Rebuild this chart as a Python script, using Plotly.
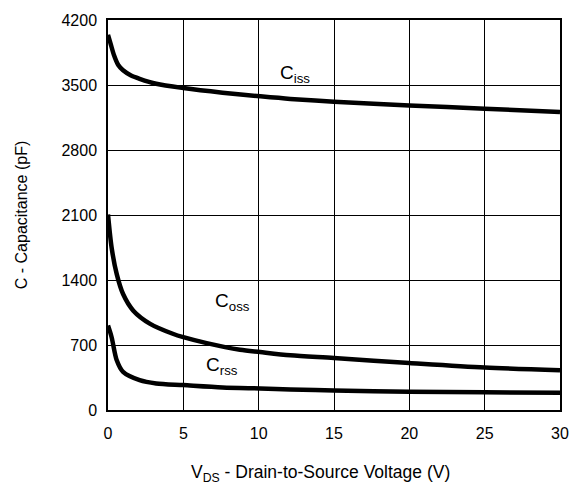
import plotly.graph_objects as go

vds_iss = [0, 0.2, 0.4, 0.68, 1.0, 1.5, 2.1, 3.2, 5, 7.6, 10.1, 12.1, 15, 20, 25, 30]
ciss = [4040, 3930, 3820, 3715, 3658, 3605, 3567, 3513, 3467, 3417, 3378, 3350, 3320, 3280, 3245, 3210]

vds_oss = [0, 0.24, 0.58, 1.0, 1.68, 2.8, 4.3, 5, 6.55, 8.76, 10.1, 12.1, 15, 20, 25, 30]
coss = [2105, 1748, 1463, 1249, 1070, 928, 821, 784, 720, 649, 624, 589, 560, 506, 457, 428]

vds_rss = [0, 0.24, 0.58, 1.0, 2.1, 3.2, 5, 7.6, 10.1, 12.1, 15, 20, 25, 30]
crss = [910, 784, 535, 410, 321, 286, 268, 243, 232, 222, 210, 196, 190, 185]

x_ticks = [0, 5, 10, 15, 20, 25, 30]
y_ticks = [0, 700, 1400, 2100, 2800, 3500, 4200]

labels = ["C<sub>iss</sub>", "C<sub>oss</sub>", "C<sub>rss</sub>"]
label_x = [11.28, 6.94, 6.37]
label_y = [3620, 1160, 475]

x_title = "V<sub>DS</sub> - Drain-to-Source Voltage (V)"
y_title = "C - Capacitance (pF)"

FONT = "Liberation Sans, Arial, Helvetica, sans-serif"

fig = go.Figure()
for xs, ys in [(vds_iss, ciss), (vds_oss, coss), (vds_rss, crss)]:
    fig.add_trace(go.Scatter(x=xs, y=ys, mode="lines",
                             line=dict(color="black", width=4.5, shape="spline", smoothing=0.8),
                             showlegend=False, hoverinfo="skip"))

for t, x, y in zip(labels, label_x, label_y):
    fig.add_annotation(x=x, y=y, text=t, showarrow=False, xanchor="left", yanchor="middle",
                       font=dict(family=FONT, size=19, color="black"))

fig.add_annotation(xref="paper", yref="paper", x=0.471, y=-0.163, text=x_title,
                   showarrow=False, xanchor="center", yanchor="middle",
                   font=dict(family=FONT, size=17.5, color="black"))

fig.update_layout(
    width=582, height=488,
    margin=dict(l=108, r=22, t=18, b=78),
    paper_bgcolor="white", plot_bgcolor="white",
    font=dict(family=FONT, size=16, color="black"),
)
fig.update_xaxes(range=[0, 30], tickvals=x_ticks, showgrid=True, gridcolor="black", gridwidth=1,
                 showline=True, linecolor="black", linewidth=1.5, mirror=True, zeroline=False,
                 ticks="", tickfont=dict(size=16), ticklabelstandoff=8)
fig.update_yaxes(range=[0, 4200], tickvals=y_ticks, showgrid=True, gridcolor="black", gridwidth=1,
                 showline=True, linecolor="black", linewidth=1.5, mirror=True, zeroline=False,
                 ticks="", tickfont=dict(size=16), ticklabelstandoff=6,
                 title=dict(text=y_title, font=dict(size=16), standoff=30))

fig.write_html("out.html")
